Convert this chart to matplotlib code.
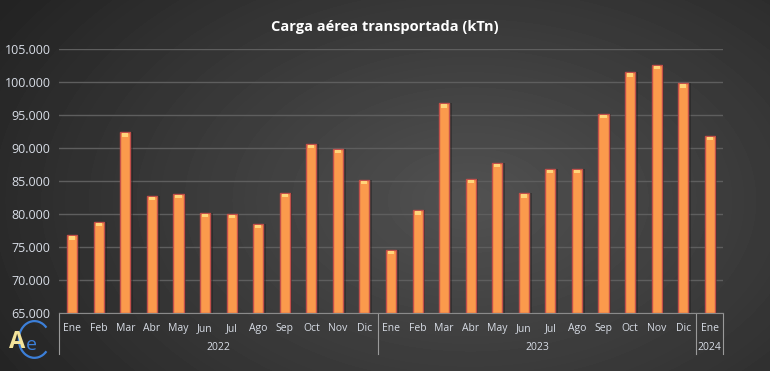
import matplotlib
matplotlib.use("Agg")
import matplotlib.pyplot as plt
import numpy as np
from matplotlib.patches import Arc

# monthly air cargo, kTn
months = ['Ene', 'Feb', 'Mar', 'Abr', 'May', 'Jun', 'Jul', 'Ago', 'Sep', 'Oct', 'Nov', 'Dic',
          'Ene', 'Feb', 'Mar', 'Abr', 'May', 'Jun', 'Jul', 'Ago', 'Sep', 'Oct', 'Nov', 'Dic',
          'Ene']
values = [76760, 78780, 92370, 82730, 83030, 80150, 80000, 78480, 83180, 90650, 89890, 85150,
          74590, 80550, 96760, 85300, 87730, 83120, 86820, 86820, 95200, 101450, 102580, 99790,
          91860]
years = ['2022', '2023', '2024']
year_counts = [12, 12, 1]
yticks = [65000, 70000, 75000, 80000, 85000, 90000, 95000, 100000, 105000]

plt.rcParams['font.family'] = ['Open Sans', 'DejaVu Sans']
txt_col = '#d8dde6'

fig = plt.figure(figsize=(7.7, 3.71), dpi=100)

# radial gradient background
bg = fig.add_axes([0, 0, 1, 1], zorder=-10)
yy, xx = np.mgrid[0:371, 0:770]
r = np.sqrt(((xx - 470) / 520.0) ** 2 + ((yy - 200) / 330.0) ** 2)
shade = np.clip(0.32 - 0.17 * r, 0.14, 0.32)
bg.imshow(shade, cmap='gray', vmin=0, vmax=1, aspect='auto', extent=[0, 1, 0, 1])
bg.axis('off')

ax = fig.add_axes([59 / 770, 1 - 313 / 371, (723 - 59) / 770, (313 - 49) / 371])
ax.patch.set_alpha(0)

x = np.arange(len(values))
vals = np.array(values)
base = yticks[0]
w = 0.38
# shadow
ax.bar(x + 0.1, vals - base, bottom=base, width=w, color='#1e1e1e', alpha=0.45, zorder=2)
ax.bar(x, vals - base, bottom=base, width=w, color='#fb9a4c', edgecolor='#c2504a',
       linewidth=1.0, zorder=3)
# top highlight
ax.bar(x, [500] * len(x), bottom=vals - 650, width=w * 0.6, color='#ffd57a', zorder=4)

ax.set_xlim(-0.5, len(values) - 0.5)
ax.set_ylim(65000, 105000)
ax.set_yticks(yticks)
ax.set_yticklabels([f"{v:,}".replace(',', '.') for v in yticks], color=txt_col, fontsize=9)
ax.tick_params(axis='y', length=0, pad=6)
ax.yaxis.grid(True, color='#5e5e5e', linewidth=1)
ax.set_axisbelow(True)
for s in ['top', 'right', 'left']:
    ax.spines[s].set_visible(False)
ax.spines['bottom'].set_color('#8a8a8a')
ax.spines['bottom'].set_linewidth(0.8)

ax.set_xticks(x)
ax.set_xticklabels(months, color=txt_col, fontsize=7.5)
ax.tick_params(axis='x', length=0, pad=7)

# year group labels and separators
trans = ax.get_xaxis_transform()
start = 0
edges = [-0.5]
for yr, n in zip(years, year_counts):
    mid = start + (n - 1) / 2
    ax.text(mid, -0.13, yr, transform=trans, ha='center', va='center',
            color=txt_col, fontsize=7.5)
    start += n
    edges.append(start - 0.5)
for e in edges:
    ax.plot([e, e], [0, -0.155], transform=trans, color='#9a9a9a', linewidth=0.8,
            clip_on=False)

fig.text(0.5, 0.927, 'Carga aérea transportada (kTn)', ha='center', va='center',
         color='white', fontsize=10.5, fontweight='bold')

# small logo bottom-left
fig.text(0.012, 0.045, 'A', color='#f3e39a', fontsize=17, fontweight='bold',
         ha='left', va='bottom')
fig.text(0.034, 0.045, 'e', color='#3c7fd8', fontsize=14, ha='left', va='bottom')
logo = fig.add_axes([0.02, 0.03, 0.045, 0.11])
logo.add_patch(Arc((0.55, 0.5), 0.9, 0.9, theta1=40, theta2=320, color='#3c7fd8', lw=1.6))
logo.set_xlim(0, 1)
logo.set_ylim(0, 1)
logo.axis('off')

fig.savefig('out.png', dpi=100)
